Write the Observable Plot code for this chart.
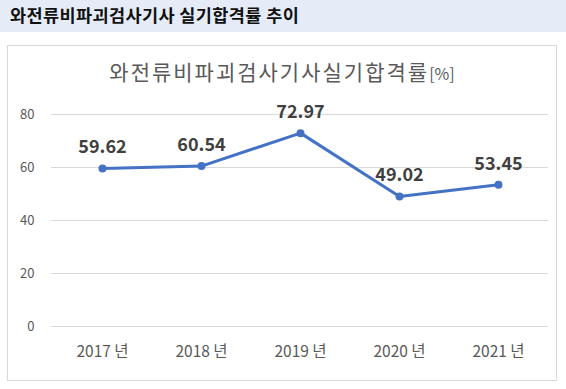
<!DOCTYPE html>
<html><head><meta charset="utf-8">
<script src="https://cdn.jsdelivr.net/npm/d3@7"></script>
<script src="https://cdn.jsdelivr.net/npm/@observablehq/plot@0.6"></script>
<style>
  body { margin:0; width:566px; height:389px; background:#fff; position:relative; overflow:hidden; font-family:"Noto Sans CJK KR","Noto Sans",sans-serif; }
  #hdr { position:absolute; left:0; top:0; width:566px; height:32px; background:#e6ecf7; }
  #hdr span { position:absolute; left:10px; top:2px; font-size:17.5px; letter-spacing:0.4px; font-weight:700; color:#111; line-height:26px; }
  #box { position:absolute; left:7px; top:45px; width:548px; height:334px; border:1px solid #d9d9d9; }
  #title { height:44px; text-align:center; font-size:21px; letter-spacing:2px; color:#595959; font-weight:400; line-height:50px; white-space:nowrap; }
  #title small { font-size:16px; letter-spacing:0; }
  #chart { position:absolute; left:0; top:44px; }
</style></head>
<body>
<div id="hdr"><span>와전류비파괴검사기사 실기합격률 추이</span></div>
<div id="box">
  <div id="title">와전류비파괴검사기사실기합격률<small>[%]</small></div>
  <div id="chart"></div>
</div>
<script>
const years = ["2017 년", "2018 년", "2019 년", "2020 년", "2021 년"];
const rates = [59.62, 60.54, 72.97, 49.02, 53.45];
const yTicks = [0, 20, 40, 60, 80];

const data = years.map((y, i) => ({year: y, rate: rates[i]}));

const plot = Plot.plot({
  width: 548,
  height: 289,
  marginLeft: 43,
  marginRight: 8,
  marginTop: 24,
  marginBottom: 53,
  style: {fontFamily: '"Noto Sans CJK KR","Noto Sans",sans-serif', background: "transparent"},
  x: {type: "point", domain: years, padding: 0.5, label: null},
  y: {domain: [0, 80], label: null},
  marks: [
    Plot.gridY(yTicks, {stroke: "#d9d9d9", strokeOpacity: 1, strokeWidth: 1}),
    Plot.axisY(yTicks, {tickSize: 0, tickPadding: 17, fontSize: 13, fill: "#595959", label: null}),
    Plot.axisX({tickSize: 0, tickPadding: 19, fontSize: 15.5, fill: "#595959", label: null}),
    Plot.line(data, {x: "year", y: "rate", stroke: "#4472c4", strokeWidth: 3, curve: "linear"}),
    Plot.dot(data, {x: "year", y: "rate", r: 4, fill: "#4472c4", stroke: "none"}),
    Plot.text(data, {x: "year", y: "rate", text: d => d.rate.toFixed(2), dy: -21, fontSize: 18, fontWeight: "bold", fill: "#404040"})
  ]
});
document.getElementById("chart").appendChild(plot);
</script>
</body></html>
